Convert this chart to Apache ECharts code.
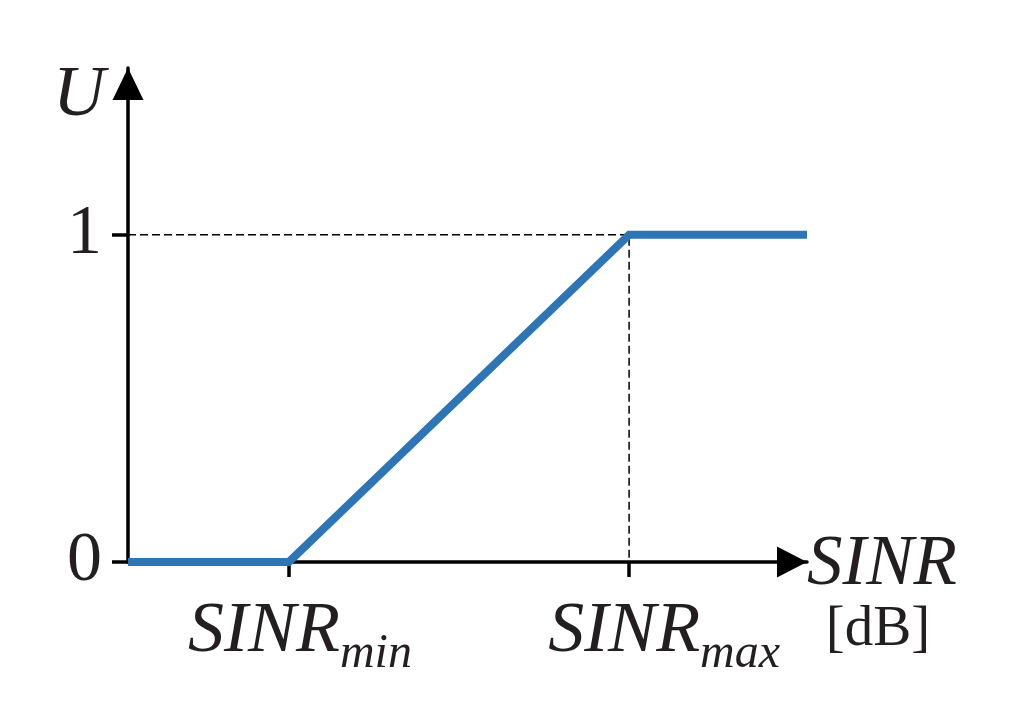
<!DOCTYPE html>
<html>
<head>
    <meta charset="utf-8">
    <title>U - SINR</title>
    <script src="https://cdn.jsdelivr.net/npm/echarts@6/dist/echarts.min.js"></script>
</head>
<body style="margin:0;background:#fff;">
    <div id="main" style="width:1024px;height:719px;"></div>
    <script type="text/javascript">
        // 数据
        var sinr = [0, 2.37, 7.38, 10];
        var utility = [0, 0, 1, 1];
        var guideX = [0, 7.38, 7.38];
        var guideY = [1, 1, 0];
        var xTicks = [2.37, 7.38];
        var xTickSubs = ['min', 'max'];
        var yTicks = [0, 1];

        var font = "'Liberation Serif', 'Times New Roman', serif";
        var ink = '#231f20';

        function pairs(xs, ys) {
            var out = [];
            for (var i = 0; i < xs.length; i++) out.push([xs[i], ys[i]]);
            return out;
        }

        var myChart = echarts.init(document.getElementById('main'));

        var option = {
            backgroundColor: '#fff',
            animation: false,
            grid: {
                left: 128,
                right: 217,
                top: 68,
                bottom: 157,
                containLabel: false,
                outerBoundsMode: 'none'
            },
            xAxis: {
                type: 'value',
                min: 0,
                max: 10,
                name: '{n|SINR}\n{d|[dB]}',
                nameLocation: 'end',
                nameGap: 0,
                nameMoveOverlap: false,
                nameTextStyle: {
                    align: 'left',
                    verticalAlign: 'middle',
                    padding: [72, 0, 0, 0],
                    rich: {
                        n: {fontFamily: font, fontSize: 71, fontStyle: 'italic', color: ink, align: 'center', lineHeight: 64},
                        d: {fontFamily: font, fontSize: 57, color: ink, align: 'center', lineHeight: 66, padding: [0, 8, 0, 0]}
                    }
                },
                axisLine: {
                    lineStyle: {color: '#000', width: 3.5},
                    symbol: ['none', 'triangle'],
                    symbolSize: [31, 30],
                    symbolOffset: [0, -15]
                },
                axisTick: {
                    customValues: xTicks,
                    length: 15,
                    lineStyle: {color: '#000', width: 3.5}
                },
                axisLabel: {
                    customValues: xTicks,
                    margin: 20,
                    formatter: function (v) {
                        var i = Math.abs(v - xTicks[0]) < 0.01 ? 0 : 1;
                        return (i === 0 ? '{a|SINR}' : '{b|SINR}') + '{s|' + xTickSubs[i] + '}';
                    },
                    rich: {
                        a: {fontFamily: font, fontSize: 72, fontStyle: 'italic', color: ink, padding: [0, 0, 0, 22], lineHeight: 100},
                        b: {fontFamily: font, fontSize: 72, fontStyle: 'italic', color: ink, padding: [0, 0, 0, 70], lineHeight: 100},
                        s: {fontFamily: font, fontSize: 48, fontStyle: 'italic', color: ink, verticalAlign: 'top', lineHeight: 48, padding: [48, 0, 0, 0]}
                    }
                },
                splitLine: {show: false}
            },
            yAxis: {
                type: 'value',
                min: 0,
                max: 1.51,
                name: 'U',
                nameLocation: 'end',
                nameGap: -28,
                nameMoveOverlap: false,
                nameTextStyle: {
                    fontFamily: font,
                    fontSize: 72,
                    fontStyle: 'italic',
                    color: ink,
                    align: 'right',
                    verticalAlign: 'middle',
                    padding: [0, 23, 0, 0]
                },
                axisLine: {
                    show: true,
                    lineStyle: {color: '#000', width: 3.5},
                    symbol: ['none', 'triangle'],
                    symbolSize: [31, 32],
                    symbolOffset: [0, -16]
                },
                axisTick: {
                    show: true,
                    customValues: yTicks,
                    length: 16,
                    lineStyle: {color: '#000', width: 3.5}
                },
                axisLabel: {
                    customValues: yTicks,
                    margin: 26,
                    fontFamily: font,
                    fontSize: 70,
                    color: ink
                },
                splitLine: {show: false}
            },
            series: [
                {
                    name: 'guide',
                    type: 'line',
                    data: pairs(guideX, guideY),
                    symbol: 'none',
                    silent: true,
                    z: 1,
                    lineStyle: {color: '#000', width: 1.5, type: [8, 4]}
                },
                {
                    name: 'U',
                    type: 'line',
                    data: pairs(sinr, utility),
                    symbol: 'none',
                    z: 3,
                    lineStyle: {color: '#2e75b6', width: 8, cap: 'butt', join: 'miter'}
                }
            ]
        };

        myChart.setOption(option);
    </script>
</body>
</html>
